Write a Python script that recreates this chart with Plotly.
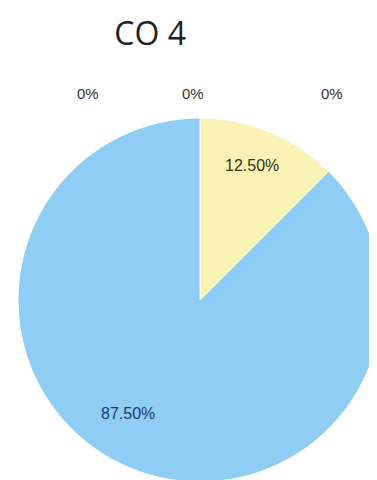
import math
import plotly.graph_objects as go

title_text = "CO 4"
categories = ["B", "A", "C", "D", "E"]
values = [12.5, 87.5, 0, 0, 0]
colors = ["#FBF2B6", "#8FCDF4", "#F6C98E", "#B5D98A", "#D9A8D6"]
label_colors = ["#3a3108", "#1d3a70"]
zero_label_x = [0.212, 0.491, 0.859]

W, H = 377, 480
cx_px, cy_px, R_px = 192, 292, 182   # pie centre / radius in figure pixels

shown = [i for i, v in enumerate(values) if v > 0]
zeros = [i for i, v in enumerate(values) if v == 0]
total = sum(values)

cx, cy = cx_px / W, 1 - cy_px / H
fig = go.Figure(go.Pie(
    labels=[categories[i] for i in shown],
    values=[values[i] for i in shown],
    marker=dict(colors=[colors[i] for i in shown], line=dict(color="white", width=1)),
    sort=False,
    direction="clockwise",
    rotation=0,
    textinfo="none",
    hoverinfo="label+percent",
    domain=dict(x=[cx - R_px / W, cx + R_px / W], y=[cy - R_px / H, cy + R_px / H]),
    showlegend=False,
))

# inside labels, placed along each slice's angle
radius_frac = [0.79, 0.74]
angle_shift = [-1.5, 10]
start = 0.0
for k, i in enumerate(shown):
    frac = values[i] / total
    mid = (start + frac / 2) * 360 + angle_shift[k]
    start += frac
    a = math.radians(mid)
    x_px = cx_px + radius_frac[k] * R_px * math.sin(a)
    y_px = cy_px - radius_frac[k] * R_px * math.cos(a)
    fig.add_annotation(
        x=x_px / W, y=1 - y_px / H, xref="paper", yref="paper",
        xanchor="center", yanchor="middle",
        text=f"{frac*100:.2f}%", showarrow=False,
        font=dict(family="Liberation Sans", size=16, color=label_colors[k]),
    )

for k, i in enumerate(zeros):
    fig.add_annotation(
        x=zero_label_x[k], y=0.821, xref="paper", yref="paper",
        xanchor="center", yanchor="middle",
        text=f"{values[i]/total*100:.0f}%", showarrow=False,
        font=dict(family="Liberation Sans", size=15, color="#333333"),
    )

fig.update_layout(
    width=W, height=H,
    margin=dict(l=0, r=0, t=0, b=0),
    paper_bgcolor="white", plot_bgcolor="white",
    title=dict(text=title_text, x=0.377, xanchor="center", y=0.946, yanchor="middle",
               font=dict(family="Open Sans", size=32, color="#222222")),
)

fig.write_html("out.html")
